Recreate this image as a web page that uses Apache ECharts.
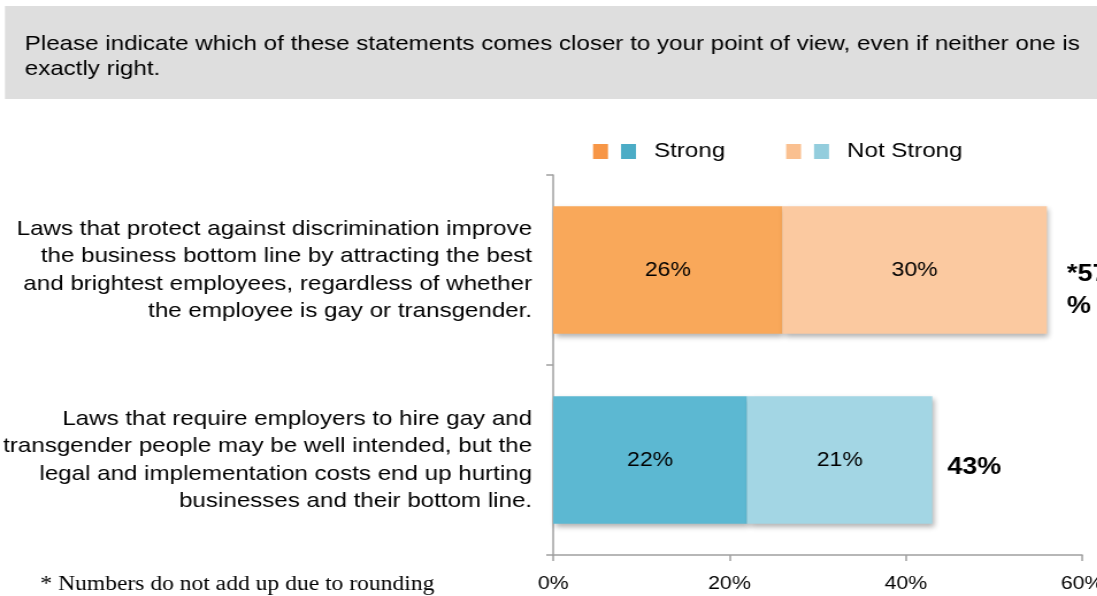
<!DOCTYPE html>
<html><head><meta charset="utf-8">
<script src="https://cdn.jsdelivr.net/npm/echarts@6/dist/echarts.min.js"></script>
<style>
html,body{margin:0;padding:0;background:#fff;overflow:hidden;width:1097px;height:596px}
#c{width:954px;height:596px;transform:scaleX(1.15);transform-origin:0 0}
</style>
</head><body><div id="c"></div>
<script>
var categories = [
  "Laws that protect against discrimination improve\nthe business bottom line by attracting the best\nand brightest employees, regardless of whether\nthe employee is gay or transgender.",
  "Laws that require employers to hire gay and\ntransgender people may be well intended, but the\nlegal and implementation costs end up hurting\nbusinesses and their bottom line."
];
var strongValues = [26, 22];
var notStrongValues = [30, 21];
var totalLabels = ["*57\n%", "43%"];
var xTicks = [0, 20, 40, 60];

var FONT = "Liberation Sans, Arial, sans-serif";
var strongColors = ["#f9a85a", "#5cb8d2"];
var notStrongColors = ["#fbc9a0", "#a3d6e4"];
var shadow = {shadowBlur: 5, shadowOffsetX: 2, shadowOffsetY: 3, shadowColor: "rgba(0,0,0,0.3)"};

var chart = echarts.init(document.getElementById("c"));
chart.setOption({
  animation: false,
  textStyle: {fontFamily: FONT},
  graphic: [{type: "rect", left: 4.3, top: 6, shape: {width: 950, height: 93}, style: {fill: "#dedede"}, z: -1}],
  title: [{
    text: "Please indicate which of these statements comes closer to your point of view, even if neither one is\nexactly right.",
    left: 16.5, top: 27,
    textStyle: {fontFamily: FONT, fontSize: 21, fontWeight: "normal", color: "#000", lineHeight: 25}
  }, {
    text: "* Numbers do not add up due to rounding",
    left: 30, top: 569,
    textStyle: {fontFamily: "Liberation Serif, Times New Roman, serif", fontSize: 20.5, fontWeight: "normal", color: "#000"}
  }],
  legend: {
    top: 136, left: 510.7,
    itemWidth: 13, itemHeight: 15, itemGap: 53, icon: "rect",
    data: [
      {name: "Strong", itemStyle: {color: "#f79646"}},
      {name: "Not Strong", itemStyle: {color: "#fac090"}}
    ],
    formatter: function (n) { return "{sp|}" + (n === "Strong" ? "{b1|}" : "{b2|}") + "{sp2|}{t|" + n + "}"; },
    textStyle: {
      fontFamily: FONT, fontSize: 21, color: "#000",
      rich: {
        sp: {width: 6.3},
        b1: {width: 13, height: 15, backgroundColor: "#4bacc6"},
        b2: {width: 13, height: 15, backgroundColor: "#93cddd"},
        sp2: {width: 15.7},
        t: {fontFamily: FONT, fontSize: 21, color: "#000"}
      }
    }
  },
  grid: {left: 481, right: 13, top: 175, bottom: 41, containLabel: false, outerBoundsMode: "none"},
  xAxis: {
    type: "value", min: xTicks[0], max: xTicks[xTicks.length - 1], interval: 20,
    axisLine: {show: true, lineStyle: {color: "#a0a0a0", width: 1.5}},
    axisTick: {show: true, length: 6, lineStyle: {color: "#a0a0a0", width: 1.5}},
    splitLine: {show: false},
    axisLabel: {formatter: "{value}%", fontSize: 18.5, color: "#000", margin: 19, fontFamily: FONT}
  },
  yAxis: {
    type: "category", inverse: true, data: categories,
    axisLine: {show: true, lineStyle: {color: "#a0a0a0", width: 1.5}},
    axisTick: {show: true, length: 6, lineStyle: {color: "#a0a0a0", width: 1.5}},
    axisLabel: {interval: 0, fontSize: 21, lineHeight: 27.5, color: "#000", margin: 18.3, align: "right", fontFamily: FONT}
  },
  series: [{
    name: "Strong", type: "bar", stack: "t", barWidth: "67%",
    data: strongValues.map(function (v, i) { return {value: v, itemStyle: Object.assign({color: strongColors[i]}, shadow)}; }),
    itemStyle: {color: strongColors[0]},
    label: {show: true, position: "inside", formatter: "{c}%", fontSize: 20, color: "#000", fontFamily: FONT}
  }, {
    name: "Not Strong", type: "bar", stack: "t",
    data: notStrongValues.map(function (v, i) { return {value: v, itemStyle: Object.assign({color: notStrongColors[i]}, shadow)}; }),
    itemStyle: {color: notStrongColors[0]},
    label: {show: true, position: "inside", formatter: "{c}%", fontSize: 20, color: "#000", fontFamily: FONT}
  }, {
    name: "Total", type: "bar", stack: "t",
    data: totalLabels.map(function (t, i) {
      return {value: 0, label: i === 0 ? {distance: 17.4, offset: [0, 21]} : {distance: 13, offset: [0, 8]}};
    }),
    itemStyle: {color: "transparent"},
    label: {
      show: true, position: "right", fontSize: 23.5, fontWeight: "bold", color: "#000", lineHeight: 32, fontFamily: FONT,
      formatter: function (p) { return totalLabels[p.dataIndex]; }
    }
  }]
});
</script></body></html>
